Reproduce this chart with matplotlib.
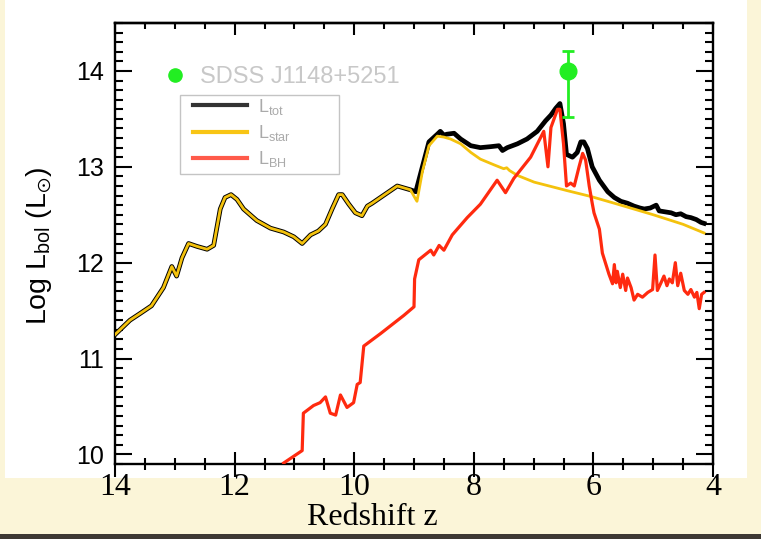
import matplotlib
matplotlib.use("Agg")
import matplotlib.pyplot as plt
from matplotlib.patches import Rectangle
from matplotlib.lines import Line2D
from matplotlib.ticker import MultipleLocator

plt.rcParams["mathtext.fontset"] = "custom"
plt.rcParams["mathtext.rm"] = "Liberation Sans"
plt.rcParams["mathtext.it"] = "Liberation Sans:italic"
plt.rcParams["mathtext.fallback"] = "stixsans"

# ---- luminosity histories (log L_sun) versus redshift ----
# early phase, where stars dominate and L_tot == L_star
z_early = [14.0, 13.75, 13.58, 13.39, 13.19, 13.05, 12.97, 12.88, 12.77, 12.63,
           12.46, 12.35, 12.24, 12.16, 12.06, 11.96, 11.85, 11.63, 11.40, 11.18,
           11.01, 10.87, 10.73, 10.60, 10.48, 10.37, 10.26, 10.20, 10.09, 9.98,
           9.87, 9.78, 9.70, 9.56, 9.42, 9.28, 9.17, 9.06]
L_early = [11.25, 11.40, 11.47, 11.55, 11.74, 11.96, 11.86, 12.05, 12.20, 12.17,
           12.14, 12.18, 12.56, 12.68, 12.71, 12.66, 12.56, 12.44, 12.36, 12.32,
           12.27, 12.20, 12.29, 12.33, 12.40, 12.56, 12.71, 12.71, 12.61, 12.52,
           12.49, 12.59, 12.62, 12.68, 12.74, 12.80, 12.78, 12.76]

# stellar luminosity after the black hole switches on
z_star_late = [8.97, 8.95, 8.86, 8.75, 8.61, 8.50, 8.39, 8.22, 8.05, 7.89,
               7.66, 7.50, 7.45, 7.40, 7.27, 6.99, 6.43, 6.04, 5.65, 5.00,
               4.50, 4.15]
L_star_late = [12.66, 12.64, 12.95, 13.22, 13.32, 13.31, 13.29, 13.24, 13.15, 13.08,
               13.02, 12.98, 12.99, 12.96, 12.91, 12.84, 12.75, 12.69, 12.62, 12.50,
               12.40, 12.31]

# total luminosity after the black hole switches on
z_tot_late = [8.97, 8.86, 8.75, 8.61, 8.56, 8.50, 8.45, 8.33, 8.22, 8.05,
              7.89, 7.72, 7.58, 7.52, 7.44, 7.27, 7.11, 6.94, 6.80, 6.71,
              6.63, 6.56, 6.50, 6.45, 6.35, 6.27, 6.21, 6.16, 6.10, 6.02,
              5.90, 5.76, 5.65, 5.54, 5.43, 5.32, 5.22, 5.15, 5.05, 4.95,
              4.90, 4.80, 4.70, 4.62, 4.54, 4.45, 4.37, 4.28, 4.20, 4.15]
L_tot_late = [12.74, 13.00, 13.26, 13.34, 13.37, 13.33, 13.34, 13.35, 13.29, 13.22,
              13.20, 13.21, 13.22, 13.17, 13.20, 13.24, 13.29, 13.37, 13.48, 13.54,
              13.61, 13.66, 13.45, 13.13, 13.10, 13.15, 13.26, 13.26, 13.19, 13.00,
              12.86, 12.74, 12.68, 12.64, 12.62, 12.59, 12.57, 12.56, 12.57, 12.60,
              12.54, 12.53, 12.52, 12.50, 12.51, 12.48, 12.47, 12.45, 12.42, 12.41]

# black hole accretion luminosity
z_bh = [11.18, 10.87, 10.85, 10.68, 10.57, 10.48, 10.40, 10.31, 10.23, 10.12,
        10.01, 9.95, 9.90, 9.84, 9.56, 9.17, 9.00, 8.99, 8.92, 8.72,
        8.67, 8.58, 8.50, 8.36, 8.11, 7.89, 7.61, 7.47, 7.33, 7.05,
        6.83, 6.76, 6.71, 6.60, 6.56, 6.50, 6.45, 6.38, 6.32, 6.24,
        6.18, 6.13, 6.07, 6.02, 5.99, 5.90, 5.85, 5.79, 5.74, 5.68,
        5.65, 5.62, 5.60, 5.55, 5.51, 5.46, 5.43, 5.37, 5.32, 5.26,
        5.18, 5.09, 5.01, 4.97, 4.93, 4.87, 4.82, 4.77, 4.73, 4.68,
        4.63, 4.59, 4.54, 4.48, 4.42, 4.37, 4.31, 4.27, 4.23, 4.19,
        4.15]
L_bh = [9.91, 10.04, 10.43, 10.51, 10.54, 10.60, 10.43, 10.41, 10.62, 10.49,
        10.54, 10.73, 10.75, 11.13, 11.26, 11.45, 11.54, 11.83, 12.03, 12.13,
        12.08, 12.18, 12.13, 12.29, 12.47, 12.61, 12.86, 12.73, 12.88, 13.10,
        13.37, 13.00, 13.41, 13.60, 13.60, 13.24, 12.80, 12.83, 12.80, 13.00,
        13.14, 13.07, 12.80, 12.62, 12.52, 12.35, 12.10, 11.98, 11.88, 11.78,
        11.98, 11.79, 11.91, 11.74, 11.88, 11.71, 11.84, 11.74, 11.61, 11.67,
        11.64, 11.69, 11.72, 12.08, 11.71, 11.79, 11.86, 11.76, 11.83, 11.79,
        12.00, 11.76, 11.89, 11.71, 11.67, 11.72, 11.64, 11.69, 11.52, 11.67,
        11.69]

z_star = z_early + z_star_late
L_star = L_early + L_star_late
z_tot = z_early + z_tot_late
L_tot = L_early + L_tot_late

# observed quasar
qso_name = "SDSS J1148+5251"
z_qso = 6.42
L_qso = 14.0
L_qso_err_lo = 0.48
L_qso_err_hi = 0.21

x_ticks = [14, 12, 10, 8, 6, 4]
y_ticks = [10, 11, 12, 13, 14]

W, H = 761, 539
fig = plt.figure(figsize=(W / 100, H / 100), dpi=100, facecolor="#fbf5d8")
fig.patches.append(Rectangle((5 / W, 1 - 478 / H), 742 / W, 478 / H,
                             transform=fig.transFigure, facecolor="white",
                             edgecolor="none", zorder=-2))
fig.patches.append(Rectangle((0, 0), 1, 5 / H, transform=fig.transFigure,
                             facecolor="#3d3833", edgecolor="none", zorder=-2))

ax = fig.add_axes([115 / W, 1 - 464 / H, 598 / W, 441 / H])
ax.set_facecolor("white")

c_tot, c_star, c_bh, c_qso = "black", "#f4c20d", "#ff2a0f", "#22ee22"
ax.plot(z_tot, L_tot, color=c_tot, lw=3.4, solid_joinstyle="round", zorder=2)
ax.plot(z_star, L_star, color=c_star, lw=2.0, solid_joinstyle="round", zorder=3)
ax.plot(z_bh, L_bh, color=c_bh, lw=2.3, solid_joinstyle="round", zorder=4)
ax.errorbar([z_qso], [L_qso], yerr=[[L_qso_err_lo], [L_qso_err_hi]], fmt="o",
            color=c_qso, ms=12, elinewidth=2, capsize=4, capthick=2, zorder=5)

ax.set_xlim(14, 4)
ax.set_ylim(9.9, 14.5)
ax.set_xticks(x_ticks, [str(t) for t in x_ticks], fontfamily="Liberation Serif", fontsize=23)
ax.set_yticks(y_ticks, [str(t) for t in y_ticks], fontfamily="Liberation Sans", fontsize=18)
ax.xaxis.set_minor_locator(MultipleLocator(0.5))
ax.yaxis.set_minor_locator(MultipleLocator(0.1))
ax.tick_params(axis="x", which="both", direction="inout", bottom=True, top=False, width=1.5)
ax.tick_params(axis="x", which="major", length=18, pad=-2.5)
ax.tick_params(axis="x", which="minor", length=9)
ax.tick_params(axis="y", which="both", direction="in", left=True, right=True, width=1.5)
ax.tick_params(axis="y", which="major", length=12, pad=8)
ax.tick_params(axis="y", which="minor", length=6)
for s in ax.spines.values():
    s.set_linewidth(1.7)

top = ax.secondary_xaxis("top")
top.xaxis.set_major_locator(MultipleLocator(2))
top.xaxis.set_minor_locator(MultipleLocator(0.5))
top.tick_params(which="both", direction="in", width=1.5, labeltop=False)
top.tick_params(which="major", length=8.5)
top.tick_params(which="minor", length=4.3)
top.spines["top"].set_linewidth(1.7)

fig.text(39 / W, 1 - 246 / H, r"Log L$_{\rm bol}$ (L$_{\odot}$)", rotation=90,
         ha="center", va="center", fontsize=20.5, family="Liberation Sans")
fig.text(372 / W, 1 - 525 / H, "Redshift z", ha="center", va="baseline",
         fontsize=23, family="Liberation Serif")

# quasar key
qkey = ax.legend(handles=[Line2D([], [], ls="none", marker="o", ms=9.5, color=c_qso)],
                 labels=[qso_name], loc="upper left", bbox_to_anchor=(0.0806, 0.9025),
                 frameon=False, labelcolor="#c8c8c8", handlelength=1.0,
                 handletextpad=0.57, borderpad=0, borderaxespad=0,
                 prop={"family": "Liberation Sans", "size": 17})
ax.add_artist(qkey)

# luminosity components key
ax.add_patch(Rectangle((0.1087, 0.6576), 0.2659, 0.1791, transform=ax.transAxes,
                       facecolor="none", edgecolor="#c4c4c4", lw=1.0, zorder=6))
handles = [Line2D([], [], color="#333333", lw=3),
           Line2D([], [], color="#f8c515", lw=3),
           Line2D([], [], color="#ff5a4a", lw=3)]
labels = [r"L$_{\rm tot}$", r"L$_{\rm star}$", r"L$_{\rm BH}$"]
ax.legend(handles=handles, labels=labels, loc="upper left",
          bbox_to_anchor=(0.1304, 0.833), frameon=False, labelcolor="#aaaaaa",
          prop={"family": "Liberation Sans", "size": 13}, handlelength=3.0,
          handletextpad=0.6, labelspacing=0.35, borderpad=0, borderaxespad=0)

fig.savefig("out.png", dpi=100, facecolor=fig.get_facecolor())
